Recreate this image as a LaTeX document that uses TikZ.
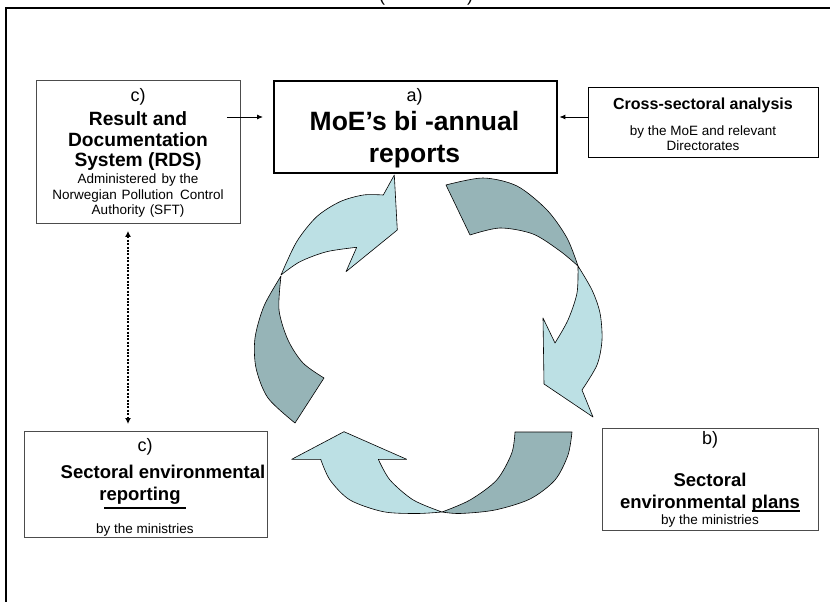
\documentclass[tikz,border=0pt]{standalone}
\usepackage{fontspec}
\setmainfont{Liberation Sans}
\usetikzlibrary{arrows.meta}
\definecolor{ribbonlight}{RGB}{188,224,228}
\definecolor{ribbondark}{RGB}{150,180,183}
% thick underline that keeps the word's width
\newcommand\thickul[1]{\setbox0\hbox{#1}\rlap{\copy0}\rule[-3pt]{\wd0}{1.4pt}}
\begin{document}
\begin{tikzpicture}[x=1pt,y=-1pt,
  boxthin/.style={draw=black!75, line width=0.9pt, inner sep=0pt, anchor=north west},
  boxthick/.style={draw=black, line width=2.4pt, inner sep=0pt, anchor=north west},
  labreg/.style={font=\fontsize{18}{20}\selectfont, anchor=base, inner sep=0pt},
  labbold/.style={font=\fontsize{18.5}{20}\selectfont\bfseries, anchor=base, inner sep=0pt},
  labboldb/.style={font=\fontsize{19.2}{21}\selectfont\bfseries, anchor=base, inner sep=0pt},
  labhuge/.style={font=\fontsize{26.5}{30}\selectfont\bfseries, anchor=base, inner sep=0pt},
  labmid/.style={font=\fontsize{16}{19}\selectfont\bfseries, anchor=base, inner sep=0pt},
  labsmall/.style={font=\fontsize{13.5}{16}\selectfont, anchor=base, inner sep=0pt},
  linkarrow/.style={line width=0.9pt, -{Latex[length=6pt,width=5pt]}},
  dotlink/.style={line width=1.3pt, dash pattern=on 2pt off 1.4pt, {Latex[length=6pt,width=6pt]}-{Latex[length=6pt,width=6pt]}},
  ribbonA/.style={fill=ribbonlight, draw=black, line width=0.6pt, line join=round},
  ribbonB/.style={fill=ribbondark, draw=black, line width=0.6pt, line join=round}
]
\useasboundingbox (0,0) rectangle (830,602);
\fill[white] (0,0) rectangle (830,602);

% outer frame and the clipped caption brackets above it
\draw[line width=1.4pt] (6,605) -- (6,8) -- (833,8);
\node[labreg] (capl) at (382,2) {(};
\node[labreg] (capr) at (470,2) {)};

% boxes
\node[boxthin, draw=black!70, minimum width=204pt, minimum height=143pt] (rds) at (36,80) {};
\node[boxthick, minimum width=283pt, minimum height=92pt] (moe) at (273,80) {};
\node[boxthin, draw=black, minimum width=230pt, minimum height=70pt] (cross) at (588,87) {};
\node[boxthin, draw=black!70, minimum width=243pt, minimum height=106pt] (rep) at (24,431) {};
\node[boxthin, draw=black!70, minimum width=216pt, minimum height=102pt] (plans) at (602,428) {};

% Result and Documentation System
\node[labreg] (rdsa) at (138,102) {c)};
\node[labboldb] (rdsb) at (138,125) {Result and};
\node[labboldb] (rdsc) at (138,146) {Documentation};
\node[labboldb] (rdsd) at (138,166) {System (RDS)};
\node[labsmall] (rdse) at (138,183) {Administered\hspace{1.5pt} by the};
\node[labsmall] (rdsf) at (138,199) {Norwegian\hspace{1pt} Pollution\hspace{3pt} Control};
\node[labsmall] (rdsg) at (138,214) {Authority\hspace{1pt} (SFT)};

% MoE reports
\node[labreg] (moea) at (414.5,101.5) {a)};
\node[labhuge] (moeb) at (414.5,130) {MoE’s bi -annual};
\node[labhuge] (moec) at (414.5,162) {reports};

% cross-sectoral analysis
\node[labmid] (crossa) at (703,110) {Cross-sectoral analysis};
\node[labsmall] (crossb) at (703,135) {by the MoE and relevant};
\node[labsmall] (crossc) at (703,150) {Directorates};

% sectoral reporting
\node[labreg] (repa) at (145,451.5) {c)};
\node[labbold] (repb) at (163,478.5) {Sectoral environmental};
\node[labbold] (repc) at (140,500.5) {reporting};
\draw[line width=1.4pt] (104,508) -- (186,508);
\node[labsmall] (repd) at (145,533) {by the ministries};

% sectoral plans
\node[labreg] (plansa) at (710,444) {b)};
\node[labbold] (plansb) at (710,486.5) {Sectoral};
\node[labbold] (plansc) at (710,508.5) {environmental \thickul{plans}};
\node[labsmall] (plansd) at (710,524) {by the ministries};

% connectors
\coordinate (lvl) at (0,117);
\coordinate (dx) at (128,0);
\draw[linkarrow] ([xshift=-14pt]rds.east |- lvl) -- ([xshift=-10pt]moe.west |- lvl);
\draw[linkarrow] (cross.west |- lvl) -- ([xshift=1pt]moe.east |- lvl);
\draw[dotlink] ([yshift=-7pt]rds.south -| dx) -- ([yshift=7pt]rep.north -| dx);

% cycle of twisted ribbon arrows
% left ribbon, rising towards the reports
\filldraw[ribbonB] (281,276) -- plot[smooth] coordinates {(281,276) (264,306) (255,338) (256,368) (268,398) (295,423)}
  -- (324,378) -- plot[smooth] coordinates {(324,378) (303,363) (288,340) (279,310) (281,276)} -- cycle;
\filldraw[ribbonA] (281,275) -- plot[smooth] coordinates {(281,275) (296.7,241.7) (316.7,216.7) (340,201.7) (363.3,195) (383.3,195)}
  -- (394.3,175) -- (397.3,230) -- (346,271.7) -- (356.7,247.3)
  -- plot[smooth] coordinates {(356.7,247.3) (326.7,251.7) (300,261.7) (281,275)} -- cycle;

% right ribbon, falling towards the plans
\filldraw[ribbonB] (446,185) -- plot[smooth] coordinates {(446,185) (483,178) (517,186) (547,210) (567,238) (578,266)}
  -- plot[smooth] coordinates {(578,266) (560,251) (533,234) (500,228) (470,235)} -- cycle;
\filldraw[ribbonA] (578,266) -- plot[smooth] coordinates {(578,266) (592,290) (600,313) (602,340) (597,365) (582,390)}
  -- (593,417) -- (544,384) -- (543,318) -- (555,343)
  -- plot[smooth] coordinates {(555,343) (568,320) (577,293) (578,266)} -- cycle;

% bottom ribbon, turning back towards the reporting
\filldraw[ribbonB] (515,432) -- (572,432) -- plot[smooth] coordinates {(572,432) (568,455) (555,480) (530,499) (495,510) (460,513.5) (442,512)}
  -- plot[smooth] coordinates {(442,512) (470,500) (496.7,480) (511.7,453.3) (515,432)} -- cycle;
\filldraw[ribbonA] (442,512) -- plot[smooth] coordinates {(442,512) (416.7,513.5) (383.3,511.7) (350,500) (330,480) (320.7,459.3)}
  -- (291.7,459.3) -- (344,431.7) -- (406.7,459.3) -- (378.3,459.3)
  -- plot[smooth] coordinates {(378.3,459.3) (390,480) (413.3,500) (442,512)} -- cycle;
\end{tikzpicture}
\end{document}
